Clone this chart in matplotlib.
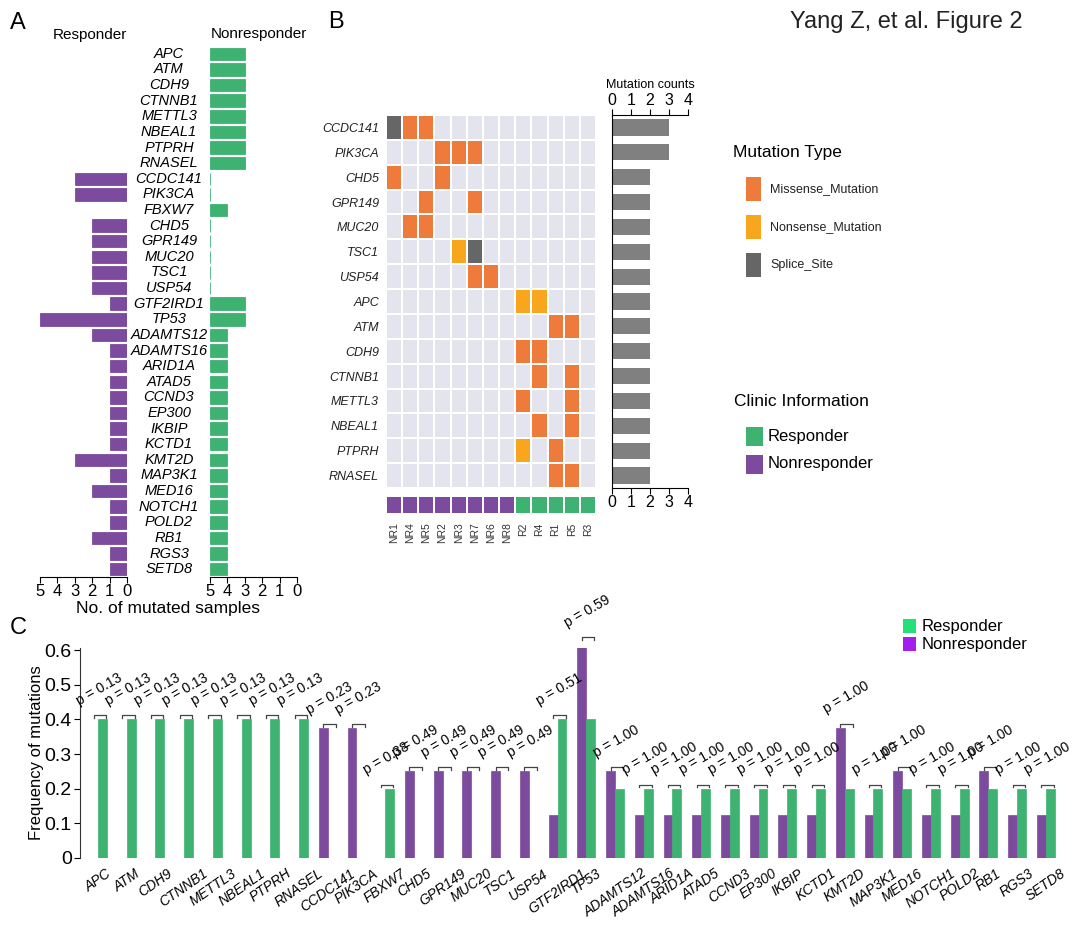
import numpy as np
import matplotlib
matplotlib.use('Agg')
import matplotlib.pyplot as plt
import matplotlib.transforms as mtransforms
from matplotlib.colors import ListedColormap
from matplotlib.patches import Rectangle

plt.rcParams['font.family'] = ['Liberation Sans', 'DejaVu Sans']

W, H = 1073, 926

PURPLE   = '#7D4B9D'
GREEN    = '#3DB271'
MISSENSE = '#EE7A3C'
NONSENSE = '#F8A61E'
SPLICE   = '#666666'
CELL_BG  = '#E4E4EF'
COUNT    = '#808080'
LEG_GRN  = '#25E07A'
LEG_PUR  = '#A21FF0'

# ── Data ───────────────────────────────────────────────────────────────────
genes = ['APC', 'ATM', 'CDH9', 'CTNNB1', 'METTL3', 'NBEAL1', 'PTPRH', 'RNASEL',
         'CCDC141', 'PIK3CA', 'FBXW7', 'CHD5', 'GPR149', 'MUC20', 'TSC1', 'USP54',
         'GTF2IRD1', 'TP53', 'ADAMTS12', 'ADAMTS16', 'ARID1A', 'ATAD5', 'CCND3',
         'EP300', 'IKBIP', 'KCTD1', 'KMT2D', 'MAP3K1', 'MED16', 'NOTCH1', 'POLD2',
         'RB1', 'RGS3', 'SETD8']
nr_counts = [0, 0, 0, 0, 0, 0, 0, 0,
             3, 3, 0, 2, 2, 2, 2, 2,
             1, 5, 2, 1, 1, 1, 1,
             1, 1, 1, 3, 1, 2, 1, 1,
             2, 1, 1]
r_counts = [2, 2, 2, 2, 2, 2, 2, 2,
            0, 0, 1, 0, 0, 0, 0, 0,
            2, 2, 1, 1, 1, 1, 1,
            1, 1, 1, 1, 1, 1, 1, 1,
            1, 1, 1]
N_NR, N_R = 8, 5
p_values = [0.13, 0.13, 0.13, 0.13, 0.13, 0.13, 0.13, 0.13,
            0.23, 0.23, 0.38, 0.49, 0.49, 0.49, 0.49, 0.49,
            0.51, 0.59] + [1.00] * 16

onco_genes = ['CCDC141', 'PIK3CA', 'CHD5', 'GPR149', 'MUC20', 'TSC1', 'USP54',
              'APC', 'ATM', 'CDH9', 'CTNNB1', 'METTL3', 'NBEAL1', 'PTPRH', 'RNASEL']
# M = missense, N = nonsense, S = splice site, . = none
onco_calls = ['SMM..........',
              '...MMM.......',
              'M..M.........',
              '..M..M.......',
              '.MM..........',
              '....NS.......',
              '.....MM......',
              '........NN...',
              '..........MM.',
              '........MM...',
              '.........M.M.',
              '........M..M.',
              '.........M.M.',
              '........N.M..',
              '..........MM.']
samples = ['NR1', 'NR4', 'NR5', 'NR2', 'NR3', 'NR7', 'NR6', 'NR8',
           'R2', 'R4', 'R1', 'R5', 'R3']
sample_group = [0, 0, 0, 0, 0, 0, 0, 0, 1, 1, 1, 1, 1]   # 0 = NR, 1 = R

fig = plt.figure(figsize=(W / 100, H / 100), dpi=100)
fig.patch.set_facecolor('white')


def px_axes(x0, y0, x1, y1):
    return fig.add_axes([x0 / W, 1 - y1 / H, (x1 - x0) / W, (y1 - y0) / H])


def ftext(x, y, s, **kw):
    fig.text(x / W, 1 - y / H, s, **kw)


def frect(x0, y0, x1, y1, color):
    fig.add_artist(Rectangle((x0 / W, 1 - y1 / H), (x1 - x0) / W, (y1 - y0) / H,
                             transform=fig.transFigure, color=color, lw=0))


def clean(ax, keep=()):
    for s in ['left', 'right', 'top', 'bottom']:
        ax.spines[s].set_visible(s in keep)
        ax.spines[s].set_linewidth(0.8)


# ── Panel A: mirrored counts ───────────────────────────────────────────────
y = np.arange(len(genes))
axL = px_axes(40, 46, 127, 577)
axL.barh(y, nr_counts, height=0.8, color=PURPLE, edgecolor=PURPLE, linewidth=0.6)
axL.set_xlim(5, 0)
axL.set_ylim(len(genes) - 0.5, -0.5)
clean(axL, keep=('bottom',))
axL.set_yticks([])
axL.set_xticks(range(6))
axL.tick_params(axis='x', labelsize=12, length=4, width=0.8, pad=1)

axR = px_axes(210, 46, 297, 577)
axR.barh(y, [-c for c in r_counts], left=5, height=0.8, color=GREEN,
         edgecolor=GREEN, linewidth=0.6)
axR.set_xlim(5, 0)
axR.set_ylim(len(genes) - 0.5, -0.5)
clean(axR, keep=('bottom',))
axR.set_yticks([])
axR.set_xticks(range(6))
axR.tick_params(axis='x', labelsize=12, length=4, width=0.8, pad=1)

trans = mtransforms.blended_transform_factory(fig.transFigure, axL.transData)
for yi, g in zip(y, genes):
    axL.text(169 / W, yi, g, transform=trans, ha='center', va='center',
             style='italic', fontsize=10.5, clip_on=False)

ftext(90, 35, 'Responder', ha='center', va='center', fontsize=11)
ftext(259, 34, 'Nonresponder', ha='center', va='center', fontsize=11)
ftext(168, 609, 'No. of mutated samples', ha='center', va='center', fontsize=12.5)

# ── Panel B: oncoplot ──────────────────────────────────────────────────────
code_map = {'.': 0, 'M': 1, 'N': 2, 'S': 3}
codes = np.array([[code_map[c] for c in row] for row in onco_calls])
n_rows, n_cols = codes.shape

axH = px_axes(386, 115, 596, 488)
axH.pcolormesh(codes, cmap=ListedColormap([CELL_BG, MISSENSE, NONSENSE, SPLICE]),
               vmin=-0.5, vmax=3.5, edgecolors='white', linewidth=1.3)
axH.set_xlim(0, n_cols)
axH.set_ylim(n_rows, 0)
clean(axH)
axH.set_xticks([])
axH.set_yticks(np.arange(n_rows) + 0.5)
axH.set_yticklabels(onco_genes, style='italic', fontsize=9, color='#222222')
axH.tick_params(axis='y', length=0, pad=5)

axAnn = px_axes(386, 496, 596, 514)
axAnn.pcolormesh([sample_group], cmap=ListedColormap([PURPLE, GREEN]),
                 vmin=-0.5, vmax=1.5, edgecolors='white', linewidth=1.3)
axAnn.set_xlim(0, n_cols)
clean(axAnn)
axAnn.set_yticks([])
axAnn.set_xticks(np.arange(n_cols) + 0.5)
axAnn.set_xticklabels(samples, rotation=90, fontsize=7.5, color='#333333')
axAnn.tick_params(axis='x', length=0, pad=6)

totals = [sum(c != '.' for c in row) for row in onco_calls]
axC = px_axes(612, 115, 688, 488)
axC.barh(np.arange(n_rows) + 0.5, totals, height=0.65, color=COUNT)
axC.set_xlim(0, 4)
axC.set_ylim(n_rows, 0)
clean(axC, keep=('left', 'top', 'bottom'))
axC.set_yticks([])
axC.set_xticks(range(5))
axC.tick_params(axis='x', top=True, labeltop=True, labelsize=11.5,
                length=4, width=0.8, pad=1)
ftext(650, 85, 'Mutation counts', ha='center', va='center', fontsize=9)

# legends B
ftext(733, 152, 'Mutation Type', ha='left', va='center', fontsize=12.5)
for yc, col, lab in [(189, MISSENSE, 'Missense_Mutation'),
                     (227, NONSENSE, 'Nonsense_Mutation'),
                     (265, SPLICE, 'Splice_Site')]:
    frect(746, yc - 12, 761, yc + 12, col)
    ftext(770, yc, lab, ha='left', va='center', fontsize=9, color='#222222')
ftext(734, 401, 'Clinic Information', ha='left', va='center', fontsize=12.5)
for yc, col, lab in [(436, GREEN, 'Responder'), (464, PURPLE, 'Nonresponder')]:
    frect(746, yc - 9.5, 763, yc + 9.5, col)
    ftext(768, yc, lab, ha='left', va='center', fontsize=12)

# ── Panel C: frequencies ───────────────────────────────────────────────────
nr_freq = np.array(nr_counts) / N_NR
r_freq = np.array(r_counts) / N_R
x = np.arange(len(genes))

axF = px_axes(80, 647.6, 1063, 858)
axF.bar(x - 0.155, nr_freq, width=0.31, color=PURPLE, edgecolor=PURPLE, linewidth=0.5)
axF.bar(x + 0.155, r_freq, width=0.31, color=GREEN, edgecolor=GREEN, linewidth=0.5)
axF.set_xlim(-0.627, len(genes) - 0.4)
axF.set_ylim(0, 0.607)
clean(axF, keep=('left',))
axF.spines['left'].set_color('#333333')
axF.set_yticks([0, 0.1, 0.2, 0.3, 0.4, 0.5, 0.6])
axF.set_yticklabels(['0', '0.1', '0.2', '0.3', '0.4', '0.5', '0.6'])
axF.tick_params(axis='y', labelsize=14, length=4, width=0.8, pad=2)
axF.set_ylabel('Frequency of mutations', fontsize=12, labelpad=0)
axF.set_xticks(x)
axF.set_xticklabels(genes, rotation=35, ha='center', style='italic', fontsize=10)
axF.tick_params(axis='x', length=0, pad=6)

for i, (a, b, p) in enumerate(zip(nr_freq, r_freq, p_values)):
    top = max(a, b) + 0.012
    axF.plot([i - 0.155, i - 0.155, i + 0.28, i + 0.28],
             [top - 0.008, top, top, top - 0.008],
             color='#444444', lw=0.9, clip_on=False)
    axF.text(i + 0.05, top + 0.075, f'p = {p:.2f}', rotation=30, ha='center',
             va='center', fontsize=10, clip_on=False)

frect(903, 619, 916, 633, LEG_GRN)
frect(903, 637, 916, 651, LEG_PUR)
ftext(922, 626, 'Responder', ha='left', va='center', fontsize=12)
ftext(922, 644, 'Nonresponder', ha='left', va='center', fontsize=12)

# ── Labels & title ─────────────────────────────────────────────────────────
ftext(10, 23, 'A', ha='left', va='center', fontsize=17)
ftext(328, 22, 'B', ha='left', va='center', fontsize=17)
ftext(10, 628, 'C', ha='left', va='center', fontsize=17)
ftext(790, 22, 'Yang Z, et al. Figure 2', ha='left', va='center', fontsize=17,
      color='#222222')

plt.savefig('out.png', dpi=100, facecolor='white')
plt.close()
